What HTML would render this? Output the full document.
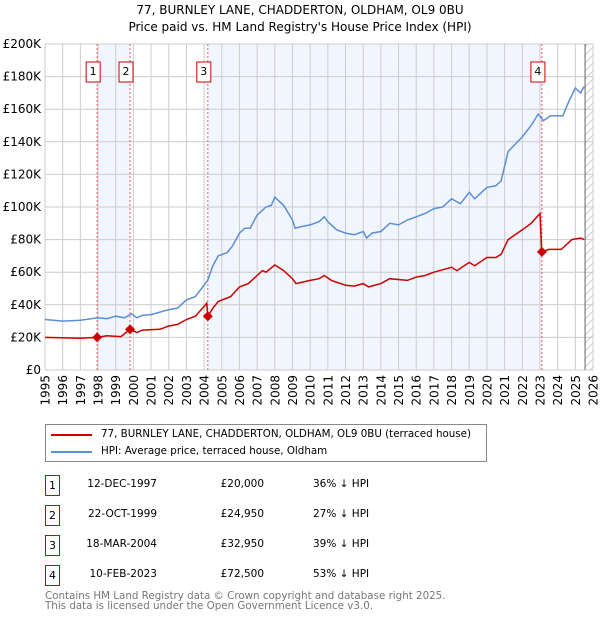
<!DOCTYPE html>
<html><head><meta charset="utf-8"><style>
body{margin:0;background:#fff;font-family:"DejaVu Sans","Liberation Sans",sans-serif;}
#wrap{position:relative;width:600px;height:620px;overflow:hidden;}
svg text{font-family:"DejaVu Sans","Liberation Sans",sans-serif;}
.abs{position:absolute;font-size:10.5px;color:#000;white-space:nowrap;}
.num{position:absolute;left:45px;width:13px;height:19px;border:1px solid #cc0000;font-size:11px;text-align:center;line-height:19px;box-sizing:content-box;}
</style></head><body><div id="wrap">
<svg id="chart" width="600" height="420" style="position:absolute;left:0;top:0">
<text x="300" y="14" text-anchor="middle" font-size="12">77, BURNLEY LANE, CHADDERTON, OLDHAM, OL9 0BU</text>
<text x="300" y="31" text-anchor="middle" font-size="12">Price paid vs. HM Land Registry's House Price Index (HPI)</text>
</svg>
<div style="position:absolute;left:45px;top:424px;width:440px;height:36px;border:1px solid #888;">
<div style="position:absolute;left:5px;top:9px;width:41px;height:2px;background:#cc0000"></div>
<div class="abs" style="left:55px;top:3px;font-size:10.3px">77, BURNLEY LANE, CHADDERTON, OLDHAM, OL9 0BU (terraced house)</div>
<div style="position:absolute;left:5px;top:26px;width:41px;height:2px;background:#5b8fd4"></div>
<div class="abs" style="left:55px;top:20px;font-size:10.3px">HPI: Average price, terraced house, Oldham</div>
</div>
<div id="table"></div>
<div class="abs" style="left:45px;top:591px;font-size:10.3px;color:#777;line-height:10px">Contains HM Land Registry data © Crown copyright and database right 2025.<br>This data is licensed under the Open Government Licence v3.0.</div>
</div>
<script>
const yTicks=[0,20,40,60,80,100,120,140,160,180,200];
const years=[1995,1996,1997,1998,1999,2000,2001,2002,2003,2004,2005,2006,2007,2008,2009,2010,2011,2012,2013,2014,2015,2016,2017,2018,2019,2020,2021,2022,2023,2024,2025,2026];
const hpiT=[1995,1996,1997,1998,1998.5,1999,1999.5,1999.9,2000.2,2000.5,2001,2001.5,2002,2002.5,2003,2003.5,2004,2004.2,2004.5,2004.8,2005.3,2005.6,2006,2006.3,2006.6,2007,2007.3,2007.5,2007.8,2008,2008.5,2009,2009.15,2009.5,2010,2010.5,2010.8,2011,2011.5,2012,2012.5,2013,2013.2,2013.5,2014,2014.5,2015,2015.5,2016,2016.5,2017,2017.5,2018,2018.5,2019,2019.3,2020,2020.5,2020.8,2021.2,2022,2022.5,2022.9,2023.2,2023.6,2024.3,2024.6,2025,2025.3,2025.5];
const hpiV=[31,30,30.5,32,31.5,33,32,34.5,32,33.5,34,35.5,37,38,43,45,52,55,64,70,72,76,84,87,87,95,98,100,101,106,101,92,87,88,89,91,94,91,86,84,83,85,81,84,85,90,89,92,94,96,99,100,105,102,109,105,112,113,116,134,143,150,157,153,156,156,164,173,170,174];
const redT=[1995,1997,1997.95,1998.5,1999.3,1999.8,2000.2,2000.5,2001.5,2002,2002.5,2003,2003.5,2004,2004.15,2004.21,2004.5,2004.8,2005.5,2006,2006.5,2007,2007.3,2007.5,2008,2008.5,2009,2009.2,2010,2010.5,2010.8,2011.2,2012,2012.5,2013,2013.3,2014,2014.5,2015.5,2016,2016.5,2017,2018,2018.3,2019,2019.3,2020,2020.5,2020.8,2021.2,2022,2022.5,2023,2023.1,2023.5,2024.2,2024.8,2025.3,2025.5];
const redV=[20,19.5,20,21,20.5,24.95,23,24.5,25,27,28,31,33,39,41,32.95,38,42,45,51,53,58,61,60,64.5,61,56,53,55,56,58,55,52,51.5,53,51,53,56,55,57,58,60,63,61,66,64,69,69,71,80,86,90,96,72.5,74,74,80,81,80];
const saleLabels=["1","2","3","4"];
const saleT=[1997.95,1999.81,2004.21,2023.11];
const saleV=[20,24.95,32.95,72.5];
const saleDates=["12-DEC-1997","22-OCT-1999","18-MAR-2004","10-FEB-2023"];
const salePrices=["£20,000","£24,950","£32,950","£72,500"];
const saleDiff=["36% ↓ HPI","27% ↓ HPI","39% ↓ HPI","53% ↓ HPI"];
const L=45,R=593,T=44,B=370,x0=1995,x1=2026,dataEnd=2025.55;
const X=t=>L+(t-x0)/(x1-x0)*(R-L);
const Y=v=>B-v/200*(B-T);
const NS='http://www.w3.org/2000/svg';
const svg=document.getElementById('chart');
function el(tag,attrs,parent){const e=document.createElementNS(NS,tag);for(const k in attrs)e.setAttribute(k,attrs[k]);(parent||svg).appendChild(e);return e;}
for(const [a,b] of [[0,1],[2,3]]){const r=el('rect',{x:X(saleT[a]),y:T,width:X(saleT[b])-X(saleT[a]),height:B-T,fill:'#f1f5fd'});

}
const defs=el('defs',{});
const pat=el('pattern',{id:'h',width:8,height:8,patternUnits:'userSpaceOnUse'},defs);
el('path',{d:'M0,8 L8,0',stroke:'#ccc','stroke-width':1},pat);
const hr=el('rect',{x:X(dataEnd),y:T,width:R-X(dataEnd),height:B-T,fill:'url(#h)'});


yTicks.forEach(v=>{const l=el('line',{x1:L,x2:R,y1:Y(v),y2:Y(v),stroke:'#ccc'});


const t=el('text',{x:L-4,y:Y(v)+4,'text-anchor':'end','font-size':12});t.textContent='£'+(v?v+'K':'0');

});
const cw=7.63;
years.forEach(y=>{const l=el('line',{x1:X(y),x2:X(y),y1:T,y2:B,stroke:'#ccc'});


const s=String(y),n=s.length;
const xs=[],ys=[],rs=[];
for(let i=0;i<n;i++){xs.push((X(y)+4.5).toFixed(1));ys.push((B+5+(n-i)*cw).toFixed(1));rs.push(-90);}
const t=el('text',{x:xs.join(' '),y:ys.join(' '),rotate:rs.join(' '),'font-size':12});
t.textContent=s;

});
const el2=el('line',{x1:X(dataEnd),x2:X(dataEnd),y1:T,y2:B,stroke:'#666'});


saleT.forEach((t,i)=>{const l=el('line',{x1:X(t),x2:X(t),y1:T,y2:B,stroke:'#e06060','stroke-dasharray':'2,2'});


const g=el('g',{});


el('rect',{x:X(t)-11,y:62,width:14,height:20,fill:'#fff',stroke:'#cc0000'},g);
const tx=el('text',{x:X(t)-4,y:75,'text-anchor':'middle','font-size':11},g);tx.textContent=saleLabels[i];});
function line(ts,vs,color,name){const d=ts.map((t,i)=>(i?'L':'M')+X(t).toFixed(1)+','+Y(vs[i]).toFixed(1)).join('');
const p=el('path',{d,fill:'none',stroke:color,'stroke-width':1.5});

}
line(hpiT,hpiV,'#5b8fd4','hpi-line');
line(redT,redV,'#cc0000','price-paid-line');
saleT.forEach((t,i)=>{const c=el('path',{d:`M${X(t)},${Y(saleV[i])-5}l5,5l-5,5l-5,-5z`,fill:'#cc0000'});

});
const tb=document.getElementById('table');
saleLabels.forEach((s,i)=>{const top=475+i*30;
const n=document.createElement('div');n.className='num';n.style.top=top+'px';n.textContent=s;

tb.appendChild(n);
[[saleDates[i],157,'sale-date',true],[salePrices[i],264,'sale-price',true],[saleDiff[i],313,'sale-hpi-diff',false]].forEach(([txt,x,nm,right])=>{
const d=document.createElement('div');d.className='abs';d.style.top=(top+3)+'px';
if(right){d.style.right=(600-x)+'px';}else{d.style.left=x+'px';}
d.textContent=txt;

tb.appendChild(d);});});
</script>
</body></html>
